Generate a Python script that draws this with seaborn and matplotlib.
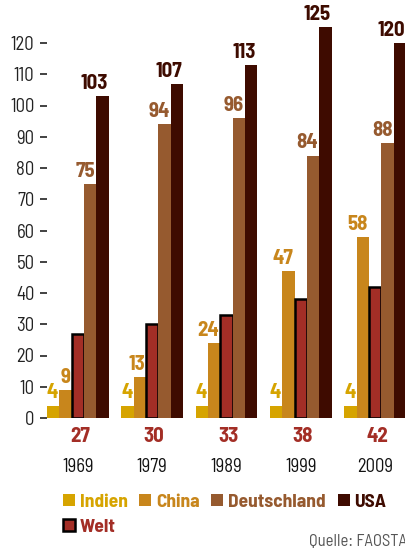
import matplotlib
matplotlib.use("Agg")
import matplotlib.pyplot as plt
import matplotlib.patches as mpatches
import seaborn as sns
import pandas as pd

# Fleischverbrauch pro Kopf (kg)
jahre = ["1969", "1979", "1989", "1999", "2009"]
indien = [4, 4, 4, 4, 4]
china = [9, 13, 24, 47, 58]
welt = [27, 30, 33, 38, 42]
deutschland = [75, 94, 96, 84, 88]
usa = [103, 107, 113, 125, 120]

laender = ["Indien", "China", "Welt", "Deutschland", "USA"]
farben = {"Indien": "#d6a400", "China": "#c8861c", "Welt": "#a32e26",
          "Deutschland": "#965a2f", "USA": "#3e0b00"}

rows = []
for land, werte in zip(laender, [indien, china, welt, deutschland, usa]):
    for j, w in zip(jahre, werte):
        rows.append({"Jahr": j, "Land": land, "Wert": w})
df = pd.DataFrame(rows)

sns.set_style("white")
plt.rcParams['font.family'] = ['Barlow Semi Condensed', 'Barlow Condensed', 'DejaVu Sans']

fig = plt.figure(figsize=(4.06, 5.53), dpi=100)
ax = fig.add_axes([47 / 406, 135 / 553, 359 / 406, 406.25 / 553])

sns.barplot(data=df, x="Jahr", y="Wert", hue="Land", hue_order=laender,
            order=jahre, palette=farben, width=0.83, saturation=1,
            linewidth=0, legend=False, ax=ax)

# Welt-Balken mit schwarzem Rand
for bar in ax.containers[2]:
    bar.set_edgecolor("black")
    bar.set_linewidth(1.8)

# Werte über den Balken (Welt unterhalb der Achse)
for cont, land in zip(ax.containers, laender):
    for bar in cont:
        h = bar.get_height()
        if land == "Welt":
            x = bar.get_x() + bar.get_width() / 2
            ax.annotate(f"{h:.0f}", xy=(x, 0), xytext=(2, -19),
                        textcoords="offset pixels", ha="center", va="center",
                        color=farben[land], fontsize=15, fontweight="bold",
                        annotation_clip=False)
        else:
            x = bar.get_x() + bar.get_width()
            ax.annotate(f"{h:.0f}", xy=(x, h), xytext=(-1, 3),
                        textcoords="offset pixels", ha="right", va="bottom",
                        color=farben[land], fontsize=15, fontweight="bold",
                        annotation_clip=False)

ax.set_xlim(-0.415, 4.415)
ax.set_ylim(0, 130)
ax.set_yticks(range(0, 121, 10))
ax.set_xlabel("")
ax.set_ylabel("")
sns.despine(ax=ax, left=True, bottom=True)
ax.tick_params(axis="y", left=True, length=5, width=1.2, color="#222222",
               labelsize=13.5, labelcolor="#222222", pad=4)
ax.tick_params(axis="x", bottom=False, labelsize=13.5, labelcolor="#111111", pad=25)

# Legende
reihenfolge = ["Indien", "Welt", "China", "Deutschland", "USA"]
handles = []
for land in reihenfolge:
    if land == "Welt":
        handles.append(mpatches.Rectangle((0, 0), 1, 1, facecolor=farben[land],
                                          edgecolor="black", linewidth=1.8, label=land))
    else:
        handles.append(mpatches.Rectangle((0, 0), 1, 1, facecolor=farben[land],
                                          linewidth=0, label=land))
leg = fig.legend(handles=handles, ncol=4, loc="upper left",
                 bbox_to_anchor=(53 / 406, 1 - 484 / 553), frameon=False,
                 prop={"size": 14, "weight": "bold"},
                 handlelength=0.62, handleheight=0.62, handletextpad=0.25,
                 columnspacing=0.6, labelspacing=0.4, borderpad=0)
for txt, land in zip(leg.get_texts(), reihenfolge):
    txt.set_color(farben[land])

fig.text(309 / 406, 1 - 542 / 553, "Quelle: FAOSTAT", ha="left", va="center",
         fontsize=12, color="#555555")

fig.savefig("out.png", dpi=100)
